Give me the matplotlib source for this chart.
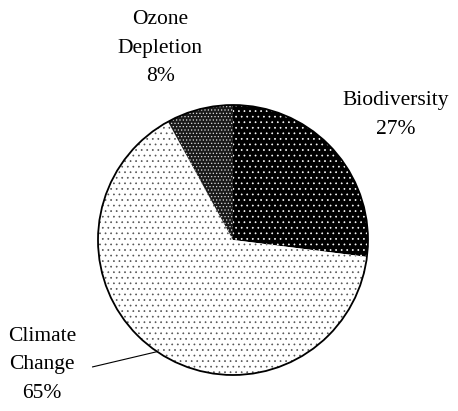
import numpy as np
import matplotlib
matplotlib.use("Agg")
import matplotlib.pyplot as plt

# dados do grafico
categorias = ["Biodiversity", "Climate\nChange", "Ozone\nDepletion"]
percentuais = [27, 65, 8]

# estilo de cada fatia: fundo, cor do pontilhado, pontilhado
fundos = ["black", "white", "#1a1a1a"]
cores_pontos = ["white", "#555555", "#dddddd"]
hatches = ["...", "...", "....."]

# posicao dos rotulos (raio, angulo em graus)
pos_rotulos = [(1.52, 37.4), (1.69, 213.2), (1.52, 110.8)]

plt.rcParams["font.family"] = ["Liberation Serif", "DejaVu Serif"]
plt.rcParams["hatch.linewidth"] = 0.5

fig = plt.figure(figsize=(4.58, 4.11), dpi=100)
# eixos na figura toda, 1 unidade = raio da pizza (135 px)
ax = fig.add_axes([0, 0, 1, 1])
R = 135.0
cx, cy = 233.0, 240.0

wedges, _ = ax.pie(percentuais, startangle=90, counterclock=False, radius=1,
                   center=(0, 0), frame=True)
for w, f, c, h in zip(wedges, fundos, cores_pontos, hatches):
    w.set_facecolor(f)
    w.set_edgecolor(c)
    w.set_hatch(h)
    w.set_linewidth(0)
ax.set_xlim(-cx / R, (458 - cx) / R)
ax.set_ylim(-(411 - cy) / R, cy / R)
ax.axis("off")

# contorno
contorno = plt.Circle((0, 0), 1, fill=False, edgecolor="black", linewidth=1.3)
ax.add_patch(contorno)

for cat, p, (r, ang) in zip(categorias, percentuais, pos_rotulos):
    x = r * np.cos(np.radians(ang))
    y = r * np.sin(np.radians(ang))
    ax.text(x, y, f"{cat}\n{p}%", ha="center", va="center", fontsize=15.5,
            linespacing=1.7)

# linha de chamada da fatia Climate Change (aponta para o meio da fatia)
w = wedges[1]
meio = np.radians((w.theta1 + w.theta2) / 2)
ax.plot([-1.04, np.cos(meio)], [-0.94, np.sin(meio)], color="black", lw=0.8)

fig.savefig("out.png", dpi=100)
